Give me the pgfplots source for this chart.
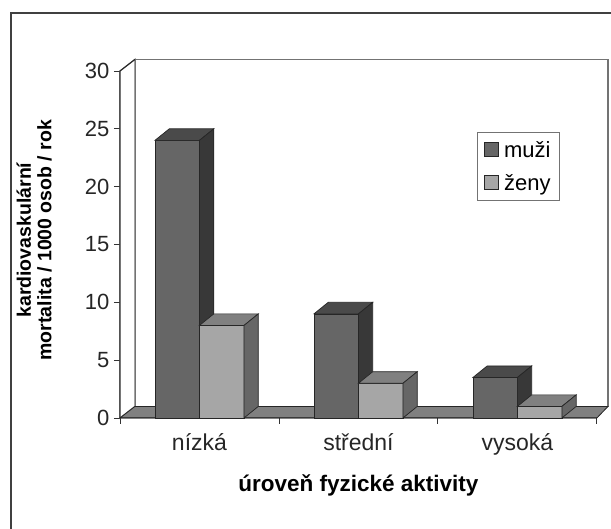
\documentclass[border=0pt]{standalone}
\usepackage{pgfplots}
\pgfplotsset{compat=1.18}
\usepackage{pgfplotstable}
\usepackage{fontspec}
\setmainfont{Liberation Sans}

\definecolor{mf}{gray}{0.40}
\definecolor{mt}{gray}{0.29}
\definecolor{ms}{gray}{0.22}
\definecolor{zf}{gray}{0.65}
\definecolor{zt}{gray}{0.50}
\definecolor{zs}{gray}{0.40}
\definecolor{floorc}{gray}{0.50}
\definecolor{barline}{gray}{0.15}
\definecolor{wallline}{gray}{0.45}

\pgfplotstableread{
cat muzi zeny
0 24 8
1 9 3
2 3.5 1
}\datatable

\def\dx{0.09}
\def\dy{1.0}
\def\bw{0.28}

\newcommand\drawbar[5]{%
  \pgfmathsetmacro\xl{#1}%
  \pgfmathsetmacro\xr{#1+\bw}%
  \pgfmathsetmacro\xlb{#1+\dx}%
  \pgfmathsetmacro\xrb{#1+\bw+\dx}%
  \pgfmathsetmacro\vt{#2}%
  \pgfmathsetmacro\vb{#2+\dy}%
  \edef\tmp{%
    \noexpand\addplot[fill=#3,draw=barline,line width=0.7pt,forget plot] coordinates {(\xl,0) (\xr,0) (\xr,\vt) (\xl,\vt)} -- cycle;
    \noexpand\addplot[fill=#4,draw=barline,line width=0.7pt,forget plot] coordinates {(\xl,\vt) (\xr,\vt) (\xrb,\vb) (\xlb,\vb)} -- cycle;
    \noexpand\addplot[fill=#5,draw=barline,line width=0.7pt,forget plot] coordinates {(\xr,0) (\xr,\vt) (\xrb,\vb) (\xrb,\dy)} -- cycle;
  }\tmp
}

\pgfplotsset{sqlegend/.style={legend image code/.code={\draw[##1] (0pt,-6pt) rectangle (14pt,8pt);}}}

\begin{document}
\begin{tikzpicture}
\useasboundingbox (0,0) rectangle (611pt,529pt);
\draw[line width=1.2pt, black!75] (11pt,0pt) -- (11pt,516pt) -- (611pt,516pt);

\pgfplotstablegetelem{0}{muzi}\of\datatable \let\ma\pgfplotsretval
\pgfplotstablegetelem{1}{muzi}\of\datatable \let\mb\pgfplotsretval
\pgfplotstablegetelem{2}{muzi}\of\datatable \let\mc\pgfplotsretval
\pgfplotstablegetelem{0}{zeny}\of\datatable \let\za\pgfplotsretval
\pgfplotstablegetelem{1}{zeny}\of\datatable \let\zb\pgfplotsretval
\pgfplotstablegetelem{2}{zeny}\of\datatable \let\zc\pgfplotsretval

\begin{axis}[
  at={(120pt,111pt)}, anchor=south west,
  scale only axis, width=488pt, height=358.6pt,
  xmin=-0.5, xmax=2.57, ymin=0, ymax=31,
  axis x line*=bottom, axis y line*=left,
  axis line style={draw=none},
  clip=false,
  ytick={0,5,...,30},
  xtick={0,1,2}, xticklabels={nízká,střední,vysoká},
  minor xtick={-0.5,0.5,1.5,2.5},
  tick align=outside,
  major tick length=6pt, minor tick length=6pt,
  tick style={black!80, line width=0.9pt},
  major x tick style={draw=none},
  /pgf/number format/assume math mode=true,
  yticklabel style={font=\fontsize{22}{24}\selectfont, black!85, xshift=-1pt},
  xticklabel style={font=\fontsize{23}{25}\selectfont, black!85, yshift=-6pt},
  xlabel={\bfseries úroveň fyzické aktivity},
  xlabel style={font=\fontsize{22.5}{24}\selectfont, at={(axis description cs:0.4886,0)}, anchor=center, yshift=-67pt},
  ylabel={\bfseries kardiovaskulární\\\bfseries mortalita / 1000 osob / rok},
  ylabel style={font=\fontsize{19.5}{20.5}\selectfont, align=center, at={(axis description cs:-0.176,0.496)}, anchor=center},
  legend style={at={(axis cs:1.745,24.7)}, anchor=north west, draw=wallline, line width=1pt, fill=white,
    font=\fontsize{22}{24}\selectfont, inner xsep=7pt, inner ysep=7pt, row sep=11pt, column sep=3pt},
  legend cell align=left,
]
% back wall
\filldraw[fill=white, draw=wallline, line width=1.2pt] (axis cs:-0.406,1) rectangle (axis cs:2.57,31);
% left wall
\filldraw[fill=white, draw=wallline, line width=1.2pt] (axis cs:-0.5,0) -- (axis cs:-0.5,30) -- (axis cs:-0.406,31) -- (axis cs:-0.406,1) -- cycle;
% floor
\filldraw[fill=floorc, draw=barline, line width=0.8pt] (axis cs:-0.5,0) -- (axis cs:2.5,0) -- (axis cs:2.57,1) -- (axis cs:-0.406,1) -- cycle;
% axis lines
\draw[black!85, line width=1pt] (axis cs:-0.406,31) -- (axis cs:-0.5,30) -- (axis cs:-0.5,0) -- (axis cs:2.5,0);

\drawbar{-0.28}{\ma}{mf}{mt}{ms}
\drawbar{0}{\za}{zf}{zt}{zs}
\drawbar{0.72}{\mb}{mf}{mt}{ms}
\drawbar{1}{\zb}{zf}{zt}{zs}
\drawbar{1.72}{\mc}{mf}{mt}{ms}
\drawbar{2}{\zc}{zf}{zt}{zs}

\addlegendimage{sqlegend, fill=mf, draw=barline, line width=0.8pt}
\addlegendentry{muži}
\addlegendimage{sqlegend, fill=zf, draw=barline, line width=0.8pt}
\addlegendentry{ženy}
\end{axis}
\end{tikzpicture}
\end{document}
